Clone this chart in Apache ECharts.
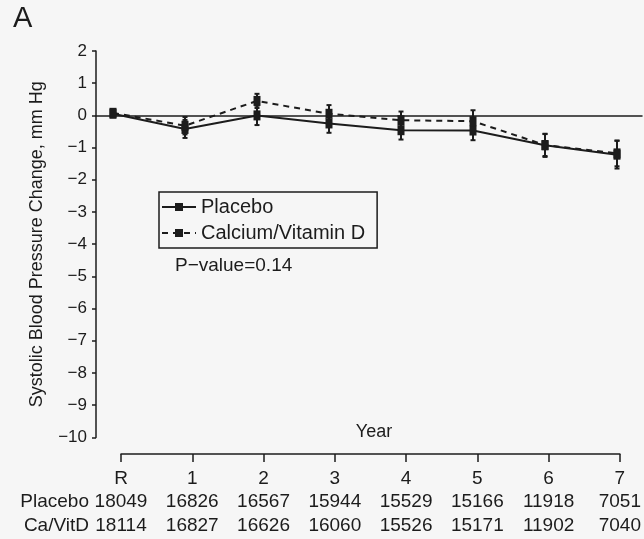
<!DOCTYPE html>
<html>
<head>
<meta charset="utf-8">
<script src="https://cdn.jsdelivr.net/npm/echarts@6/dist/echarts.min.js"></script>
<style>
  html, body { margin: 0; padding: 0; background: #f6f6f6; }
  #chart { width: 644px; height: 539px; }
</style>
</head>
<body>
<div id="chart"></div>
<script>
// Follow-up years (R = randomization)
const years = ['R', '1', '2', '3', '4', '5', '6', '7'];

// Number of participants with a measurement at each visit
const placeboN = [18049, 16826, 16567, 15944, 15529, 15166, 11918, 7051];
const caVitDN  = [18114, 16827, 16626, 16060, 15526, 15171, 11902, 7040];

// Mean change in systolic blood pressure (mm Hg) and half-width of its interval
const placeboMean = [0.05, -0.42, 0.00, -0.25, -0.46, -0.47, -0.93, -1.22];
const placeboErr  = [0.08,  0.28, 0.30,  0.29,  0.29,  0.30,  0.36,  0.43];
const caMean      = [0.08, -0.32, 0.45,  0.05, -0.15, -0.18, -0.92, -1.18];
const caErr       = [0.08,  0.27, 0.22,  0.27,  0.27,  0.34,  0.34,  0.40];

// Y-axis range
const yMin = -10, yMax = 2, yStep = 1;

const FONT = "'Liberation Sans', Arial, sans-serif";
const INK = '#1c1c1c';
const minus = s => String(s).replace('-', '\u2212');

const pts = (m) => m.map((v, i) => [i, v]);
const errData = [];
placeboMean.forEach((v, i) => errData.push([i, v - placeboErr[i], v + placeboErr[i]]));
caMean.forEach((v, i) => errData.push([i, v - caErr[i], v + caErr[i]]));

const chart = echarts.init(document.getElementById('chart'), null, { renderer: 'canvas' });

chart.setOption({
  backgroundColor: '#f6f6f6',
  animation: false,
  textStyle: { fontFamily: FONT, color: INK },
  grid: [
    { left: 96, right: 2, top: 51, height: 386.4 },
    { left: 121, width: 499, top: 453, height: 1 }
  ],
  xAxis: [
    {
      gridIndex: 0, type: 'value', min: -0.236, max: 7.347,
      axisLine: { show: true, onZero: true, lineStyle: { color: INK, width: 1.5 } },
      axisTick: { show: false }, axisLabel: { show: false }, splitLine: { show: false }
    },
    {
      gridIndex: 1, type: 'category', data: years, boundaryGap: false, position: 'bottom',
      axisLine: { show: true, lineStyle: { color: INK, width: 1.5 } },
      axisTick: { show: true, length: 8, lineStyle: { color: INK, width: 1.5 } },
      axisLabel: {
        margin: 13,
        interval: 0,
        formatter: (val, idx) => '{y|' + val + '}\n{n|' + placeboN[idx] + '}\n{n|' + caVitDN[idx] + '}',
        rich: {
          y: { fontSize: 19, lineHeight: 23.5, color: INK, fontFamily: FONT },
          n: { fontSize: 19, lineHeight: 23.5, color: INK, fontFamily: FONT }
        }
      },
      splitLine: { show: false }
    }
  ],
  yAxis: [
    {
      gridIndex: 0, type: 'value', min: yMin, max: yMax, interval: yStep,
      name: 'Systolic Blood Pressure Change, mm Hg',
      nameLocation: 'middle', nameGap: 50, nameRotate: 90,
      nameTextStyle: { fontSize: 18, color: INK, fontFamily: FONT },
      axisLine: { show: true, onZero: false, lineStyle: { color: INK, width: 1.5 } },
      axisTick: { show: true, length: 4, lineStyle: { color: INK, width: 1.5 } },
      axisLabel: { fontSize: 17, color: INK, margin: 9, formatter: v => minus(v) },
      splitLine: { show: false }
    },
    { gridIndex: 1, type: 'value', show: false }
  ],
  legend: {
    orient: 'vertical', left: 159, top: 192,
    data: ['Placebo', 'Calcium/Vitamin D'],
    itemWidth: 34, itemHeight: 10, itemGap: 6,
    padding: [5, 12, 5, 2],
    borderColor: INK, borderWidth: 1.5,
    textStyle: { fontSize: 20, color: INK, fontFamily: FONT }
  },
  graphic: [
    { type: 'text', left: 13, top: 4, style: { text: 'A', fontSize: 29, fill: INK, fontFamily: FONT } },
    { type: 'text', x: 374, y: 432, style: { text: 'Year', fontSize: 18, fill: INK, fontFamily: FONT, align: 'center', verticalAlign: 'middle' } },
    { type: 'text', x: 89, y: 502, style: { text: 'Placebo', fontSize: 19, fill: INK, fontFamily: FONT, align: 'right', verticalAlign: 'middle' } },
    { type: 'text', x: 89, y: 526, style: { text: 'Ca/VitD', fontSize: 19, fill: INK, fontFamily: FONT, align: 'right', verticalAlign: 'middle' } },
    { type: 'text', x: 175, y: 266, style: { text: 'P\u2212value=0.14', fontSize: 19, fill: INK, fontFamily: FONT, verticalAlign: 'middle' } }
  ],
  series: [
    {
      name: 'errors', type: 'custom', xAxisIndex: 0, yAxisIndex: 0, z: 2,
      data: errData,
      renderItem: (params, api) => {
        const x = api.value(0);
        const lo = api.coord([x, api.value(1)]);
        const hi = api.coord([x, api.value(2)]);
        const c = 2.5;
        const st = { stroke: INK, lineWidth: 2 };
        return {
          type: 'group',
          children: [
            { type: 'line', shape: { x1: lo[0], y1: lo[1], x2: hi[0], y2: hi[1] }, style: st },
            { type: 'line', shape: { x1: lo[0] - c, y1: lo[1], x2: lo[0] + c, y2: lo[1] }, style: st },
            { type: 'line', shape: { x1: hi[0] - c, y1: hi[1], x2: hi[0] + c, y2: hi[1] }, style: st }
          ]
        };
      }
    },
    {
      name: 'Placebo', type: 'line', xAxisIndex: 0, yAxisIndex: 0, z: 3,
      data: pts(placeboMean),
      symbol: 'rect', symbolSize: [7, 10],
      itemStyle: { color: INK },
      lineStyle: { color: INK, width: 2 }
    },
    {
      name: 'Calcium/Vitamin D', type: 'line', xAxisIndex: 0, yAxisIndex: 0, z: 3,
      data: pts(caMean),
      symbol: 'rect', symbolSize: [7, 10],
      itemStyle: { color: INK },
      lineStyle: { color: INK, width: 2, type: [6, 5] }
    }
  ]
});
</script>
</body>
</html>
